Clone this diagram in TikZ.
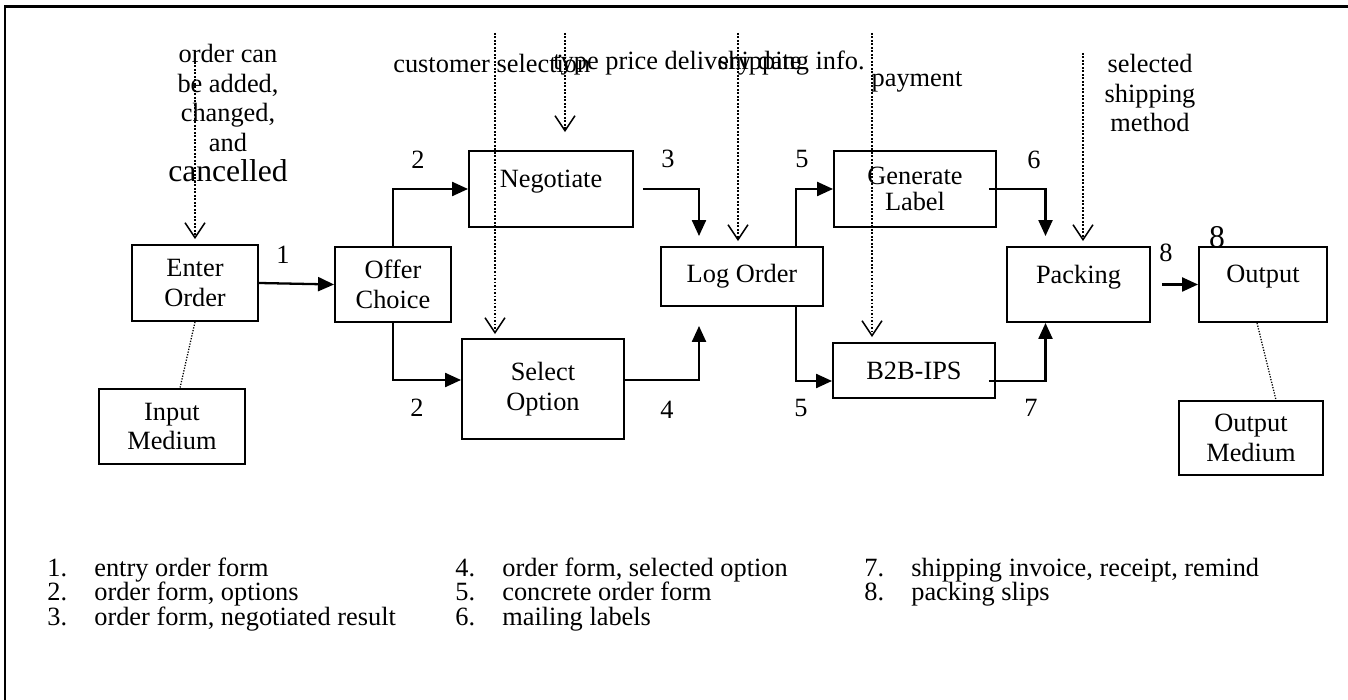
\documentclass[tikz,border=0pt]{standalone}
\usepackage{fontspec}
\setmainfont{Liberation Serif}
\usetikzlibrary{arrows.meta}

\tikzset{
  box/.style={draw, line width=1.1pt, inner sep=0pt, align=center},
  flow/.style={line width=1.3pt, -{Triangle[length=3.2mm,width=2.8mm]}},
  dataflow/.style={line width=0.35mm, dash pattern=on 0.35mm off 0.35mm,
    -{Straight Barb[length=3mm,width=4mm,line width=0.3mm]}},
  medium/.style={line width=0.25mm, dash pattern=on 0.25mm off 0.3mm},
  plain/.style={inner sep=0pt},
  legend/.style={anchor=base west, inner sep=0pt}
}

\begin{document}
\begin{tikzpicture}[x=0.2mm, y=-0.2mm, font=\fontsize{15pt}{17pt}\selectfont]
    \useasboundingbox (0,0) rectangle (1348,700);
    % Outer frame (cut at the right and bottom)
    \draw[line width=1.7pt] (1350,7) -- (5,7) -- (5,702);

    % Process boxes
    \node[box, minimum width=25.2mm, minimum height=15.2mm] (enter) at (195,283) {Enter\\Order};
    \node[box, minimum width=23.2mm, minimum height=15mm] (offer) at (393,284.5) {Offer\\Choice};
    \node[box, minimum width=32.8mm, minimum height=15.2mm] (neg) at (551,189) {Negotiate\\[-10pt]\strut};
    \node[box, minimum width=32.4mm, minimum height=20mm] (sel) at (543,389) {Select\\Option};
    \node[box, minimum width=32.4mm, minimum height=11.8mm] (log) at (742,276.5) {Log Order};
    \node[box, minimum width=32.4mm, minimum height=15.2mm] (gen) at (915,189) {Generate\\[-2pt]Label};
    \node[box, minimum width=32.4mm, minimum height=11mm] (b2b) at (914,370.5) {B2B-IPS};
    \node[box, minimum width=28.6mm, minimum height=15mm] (pack) at (1078.5,284.5) {Packing\\[-10pt]\strut};
    \node[box, minimum width=25.6mm, minimum height=15mm] (out) at (1263,284.5) {Output\\[-10pt]\strut};
    % Media
    \node[box, minimum width=29.2mm, minimum height=15mm] (inmed) at (172,426.5) {Input\\Medium};
    \node[box, minimum width=28.8mm, minimum height=14.8mm] (outmed) at (1251,438) {Output\\Medium};

    % Outside inputs
    \coordinate (chg-src) at (195,55);
    \coordinate (cs-src) at (495,33);
    \coordinate (tp-src) at (565,33);
    \coordinate (si-src) at (738,33);
    \coordinate (pay-src) at (872,33);
    \coordinate (ssm-src) at (1083,53);
    \node[plain, align=center] (chg-txt) at (228,113) {order can\\be added,\\changed,\\and\\{\fontsize{18pt}{20pt}\selectfont cancelled}};
    \node[plain, anchor=west] (cs-txt) at (393,63) {customer selection};
    \node[plain, anchor=west] (tp-txt) at (553,63) {type price delivery date};
    \node[plain, anchor=east] (si-txt) at (865,63) {shipping info.};
    \node[plain] (pay-txt) at (917,82) {payment};
    \node[plain, align=center] (ssm-txt) at (1150,93) {selected\\shipping\\method};

    % Dotted input arrows
    \draw[dataflow] (chg-src) -- ([yshift=1mm]enter.north);
    \draw[dataflow, shorten >=0.8mm] (cs-src) -- (cs-src |- sel.north);
    \draw[dataflow, shorten >=3.6mm] (tp-src) -- (tp-src |- neg.north);
    \draw[dataflow, shorten >=1mm] (si-src) -- (si-src |- log.north);
    \draw[dataflow, shorten >=1mm] (pay-src) -- (pay-src |- b2b.north);
    \draw[dataflow, shorten >=1mm] (ssm-src) -- (ssm-src |- pack.north);

    % Media links
    \draw[medium] (enter.south) -- ([xshift=1.6mm]inmed.north);
    \draw[medium] ([xshift=-1.2mm]out.south) -- ([xshift=5mm]outmed.north);

    % Flows
    \draw[flow] (enter.east) -- (offer.west);
    \draw[flow] (offer.north) |- (neg.west);
    \draw[flow] (offer.south) |- ([yshift=1.8mm]sel.west);
    \draw[flow] ([xshift=1.8mm]neg.east) -| ([xshift=-8.6mm,yshift=2mm]log.north);
    \draw[flow] ([yshift=1.8mm]sel.east) -| ([xshift=-8.6mm,yshift=-3.8mm]log.south);
    \draw[flow] ([xshift=10.8mm]log.north) |- (gen.west);
    \draw[flow] ([xshift=10.8mm]log.south) |- ([yshift=-2.1mm]b2b.west);
    \draw[flow] ([xshift=-1.6mm]gen.east) -| ([xshift=-6.6mm,yshift=2mm]pack.north);
    \draw[flow] ([xshift=-1.4mm,yshift=-2.1mm]b2b.east) -| ([xshift=-6.6mm]pack.south);
    \draw[flow] ([xshift=2.2mm]pack.east) -- (out.west);

    % Flow numbers
    \node[plain] (n1) at (283,255) {1};
    \node[plain] (n2a) at (418,160) {2};
    \node[plain] (n2b) at (417,408) {2};
    \node[plain] (n3) at (668,159) {3};
    \node[plain] (n4) at (667,410) {4};
    \node[plain] (n5a) at (802,159) {5};
    \node[plain] (n5b) at (801,408) {5};
    \node[plain] (n6) at (1034,160) {6};
    \node[plain] (n7) at (1031,408) {7};
    \node[plain] (n8) at (1166,253) {8};
    \node[plain, font=\fontsize{18pt}{20pt}\selectfont] (n8big) at (1217,237) {8};

    % Legend
    \foreach \i/\col/\row/\txt in {1/47/577/{entry order form},
        2/47/601/{order form, options},
        3/47/625/{order form, negotiated result},
        4/455/577/{order form, selected option},
        5/455/601/{concrete order form},
        6/455/625/{mailing labels},
        7/864/577/{shipping invoice, receipt, remind},
        8/864/601/{packing slips}}
        \node[legend] (leg\i) at (\col,\row) {\makebox[9.4mm][l]{\i.}\txt};
\end{tikzpicture}
\end{document}
